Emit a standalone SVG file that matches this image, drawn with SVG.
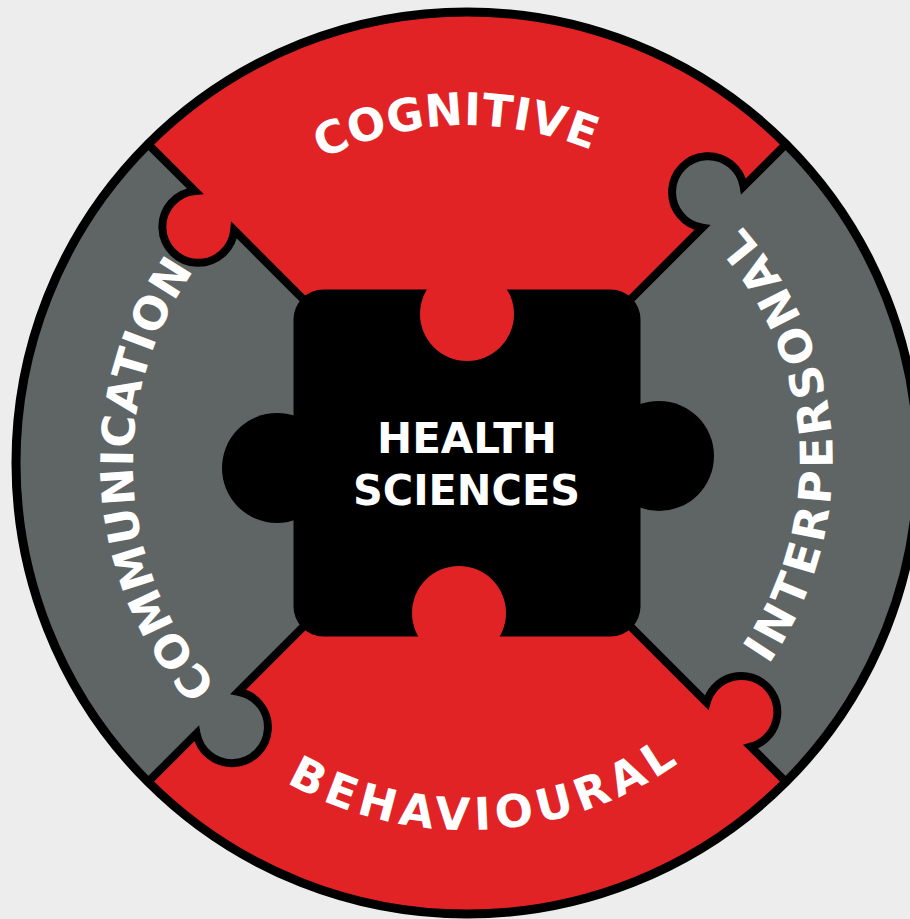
<svg xmlns="http://www.w3.org/2000/svg" width="910" height="919" viewBox="0 0 910 919">
  <style>
    .red { fill: #E12326; }
    .gray { fill: #5F6565; }
    .blk { fill: #000000; }
    .edge { fill: none; stroke: #000000; stroke-width: 8; stroke-linejoin: miter; }
    .ring-label { fill: #FFFFFF; font-family: "DejaVu Sans", "Open Sans", sans-serif; font-weight: 700; font-size: 45px; }
    .center-label { fill: #FFFFFF; font-family: "DejaVu Sans", "Open Sans", sans-serif; font-weight: 700; font-size: 42px; text-anchor: middle; }
  </style>
  <defs>
    <clipPath id="disc">
      <circle cx="467" cy="463" r="451"/>
    </clipPath>
    <path id="p-cog" d="M 478.2 800.8 A 338 338 0 0 1 455.8 125.2 A 338 338 0 0 1 478.2 800.8"/>
    <path id="p-com" d="M 800.5 444.4 A 334 334 0 0 1 133.5 481.6 A 334 334 0 0 1 800.5 444.4"/>
    <path id="p-int" d="M 101.7 485 A 366 366 0 0 0 832.3 441 A 366 366 0 0 0 101.7 485"/>
    <path id="p-beh" d="M 449.1 96.4 A 367 367 0 0 0 484.9 829.6 A 367 367 0 0 0 449.1 96.4"/>
  </defs>

  <rect x="0" y="0" width="910" height="919" fill="#EDEDED"/>

  <g id="ring-base">
    <circle class="gray" cx="467" cy="463" r="451"/>
  </g>

  <g id="cognitive">
    <polygon class="red" clip-path="url(#disc)" points="467,463 -200,-204 1134,-204"/>
    <circle class="red" cx="198.3" cy="226.9" r="36"/>
    <text class="ring-label"><textPath href="#p-cog" startOffset="50%" text-anchor="middle" textLength="278" lengthAdjust="spacing">COGNITIVE</textPath></text>
  </g>

  <g id="behavioural">
    <polygon class="red" clip-path="url(#disc)" points="467,463 1134,1130 -200,1130"/>
    <circle class="red" cx="741.3" cy="711.9" r="36"/>
    <text class="ring-label"><textPath href="#p-beh" startOffset="50%" text-anchor="middle" textLength="414" lengthAdjust="spacing">BEHAVIOURAL</textPath></text>
  </g>

  <g id="interpersonal">
    <circle class="gray" cx="708.2" cy="192.2" r="36"/>
    <text class="ring-label"><textPath href="#p-int" startOffset="50%" text-anchor="middle" textLength="474" lengthAdjust="spacing">INTERPERSONAL</textPath></text>
  </g>

  <g id="communication">
    <circle class="gray" cx="231.9" cy="727.1" r="36"/>
    <text class="ring-label"><textPath href="#p-com" startOffset="50%" text-anchor="middle" textLength="448" lengthAdjust="spacing">COMMUNICATION</textPath></text>
  </g>

  <g id="outlines">
    <path class="edge" d="M 467 463 L 234.2 230.2 A 36 36 0 1 1 195.0 191.0 L 145.3 141.3"/>
    <path class="edge" d="M 467 463 L 702.3 227.7 A 36 36 0 1 1 743.6 186.4 L 788.7 141.3"/>
    <path class="edge" d="M 467 463 L 238.3 691.7 A 36 36 0 1 1 196.5 733.5 L 145.3 784.7"/>
    <path class="edge" d="M 467 463 L 706.6 702.6 A 36 36 0 1 1 750.7 746.7 L 788.7 784.7"/>
    <circle cx="467" cy="463" r="451" fill="none" stroke="#000000" stroke-width="9"/>
  </g>

  <g id="health-sciences">
    <rect class="blk" x="293.5" y="289.5" width="347" height="347" rx="30" ry="30"/>
    <circle class="blk" cx="277" cy="468" r="55"/>
    <circle class="blk" cx="659" cy="456" r="55"/>
    <circle class="red" cx="467" cy="314" r="47"/>
    <circle class="red" cx="459" cy="613" r="47"/>
    <text class="center-label" x="467" y="453" textLength="180" lengthAdjust="spacingAndGlyphs">HEALTH</text>
    <text class="center-label" x="466.5" y="505" textLength="227" lengthAdjust="spacingAndGlyphs">SCIENCES</text>
  </g>
</svg>
